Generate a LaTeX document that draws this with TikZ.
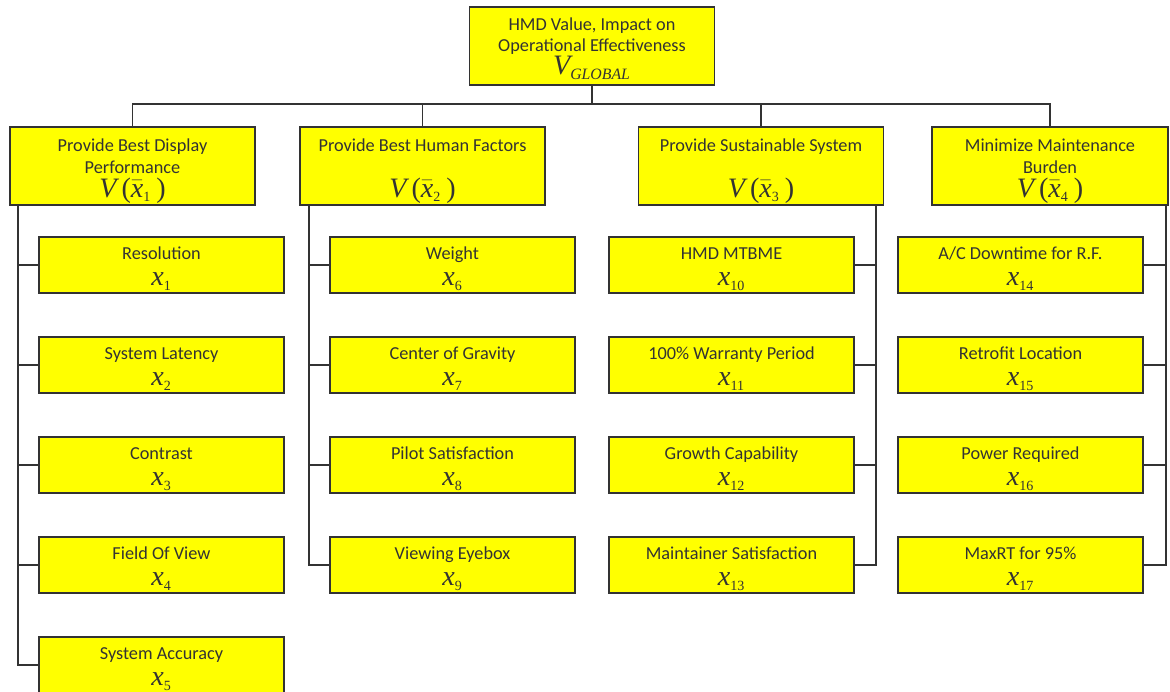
\documentclass[tikz,border=0pt]{standalone}
\usepackage{amsmath}
\usepackage{fontspec}
\setmainfont{Carlito}
\newfontfamily\termsfont{Liberation Serif}
\usepackage{tikz}
\usetikzlibrary{calc}
\definecolor{boxYellow}{HTML}{FFFF00}
\definecolor{ink}{HTML}{333333}
\newcommand\tv[1]{\text{\termsfont\itshape #1}}
\newcommand\tn[1]{\text{\termsfont #1}}
\newcommand\tsub[1]{\text{\fontsize{8}{8}\selectfont\termsfont #1}}
\newcommand\bigmath[1]{{\fontsize{16}{16}\selectfont$#1$}}
\newcommand\critval[1]{\bigmath{\tv{V}\,\tn{(}\bar{\tv{x}}_{\tsub{#1}}\,\tn{)}}}
\newcommand\measure[1]{\bigmath{\tv{x}_{\tsub{#1}}}}
\newcommand\topstrut[1]{\rule{0pt}{#1}}

\begin{document}
\begin{tikzpicture}[x=0.02cm,y=-0.02cm,
  font=\fontsize{10.4}{12.5}\selectfont, text=ink,
  box/.style={draw=ink,line width=0.9pt,fill=boxYellow,align=center,inner sep=0pt,minimum width=4.9cm},
  rootbox/.style={box,minimum height=1.56cm},
  critbox/.style={box,minimum height=1.56cm},
  leafbox/.style={box,minimum height=1.12cm},
  link/.style={draw=ink,line width=1pt}]
\useasboundingbox (0,0) rectangle (1170,692);
% top value
\node[rootbox] (root) at (592,46) {\topstrut{10pt}HMD Value, Impact on\\Operational Effectiveness\\[0.5pt]\bigmath{\tv{V}_{\text{\fontsize{9}{9}\selectfont\termsfont\itshape GLOBAL}}}};
% criteria
\node[critbox] (c1) at (132.5,166) {\topstrut{13pt}Provide Best Display\\Performance\\[1.2pt]\critval{1}};
\node[critbox] (c2) at (422.5,166) {\topstrut{13pt}Provide Best Human Factors\\ \\[1.2pt]\critval{2}};
\node[critbox] (c3) at (761,166) {\topstrut{13pt}Provide Sustainable System\\ \\[1.2pt]\critval{3}};
\node[critbox,minimum width=4.72cm] (c4) at (1050,166) {\topstrut{13pt}Minimize Maintenance\\Burden\\[1.2pt]\critval{4}};
% measures
\node[leafbox] (m1) at (161.5,265) {\topstrut{11.5pt}Resolution\\[2.3pt]\measure{1}};
\node[leafbox] (m2) at (161.5,365) {\topstrut{11.5pt}System Latency\\[2.3pt]\measure{2}};
\node[leafbox] (m3) at (161.5,465) {\topstrut{11.5pt}Contrast\\[2.3pt]\measure{3}};
\node[leafbox] (m4) at (161.5,565) {\topstrut{11.5pt}Field Of View\\[2.3pt]\measure{4}};
\node[leafbox] (m5) at (161.5,665) {\topstrut{11.5pt}System Accuracy\\[2.3pt]\measure{5}};
\node[leafbox] (m6) at (452.5,265) {\topstrut{11.5pt}Weight\\[2.3pt]\measure{6}};
\node[leafbox] (m7) at (452.5,365) {\topstrut{11.5pt}Center of Gravity\\[2.3pt]\measure{7}};
\node[leafbox] (m8) at (452.5,465) {\topstrut{11.5pt}Pilot Satisfaction\\[2.3pt]\measure{8}};
\node[leafbox] (m9) at (452.5,565) {\topstrut{11.5pt}Viewing Eyebox\\[2.3pt]\measure{9}};
\node[leafbox] (m10) at (731.5,265) {\topstrut{11.5pt}HMD MTBME\\[2.3pt]\measure{10}};
\node[leafbox] (m11) at (731.5,365) {\topstrut{11.5pt}100\% Warranty Period\\[2.3pt]\measure{11}};
\node[leafbox] (m12) at (731.5,465) {\topstrut{11.5pt}Growth Capability\\[2.3pt]\measure{12}};
\node[leafbox] (m13) at (731.5,565) {\topstrut{11.5pt}Maintainer Satisfaction\\[2.3pt]\measure{13}};
\node[leafbox] (m14) at (1020.5,265) {\topstrut{11.5pt}A/C Downtime for R.F.\\[2.3pt]\measure{14}};
\node[leafbox] (m15) at (1020.5,365) {\topstrut{11.5pt}Retrofit Location\\[2.3pt]\measure{15}};
\node[leafbox] (m16) at (1020.5,465) {\topstrut{11.5pt}Power Required\\[2.3pt]\measure{16}};
\node[leafbox] (m17) at (1020.5,565) {\topstrut{11.5pt}MaxRT for 95\%\\[2.3pt]\measure{17}};
% tree lines
\draw[link] (root.south) -- ++(0,18) -| (c1.north);
\draw[link] (root.south) -- ++(0,18) -| (c2.north);
\draw[link] (root.south) -- ++(0,18) -| (c3.north);
\draw[link] (root.south) -- ++(0,18) -| (c4.north);
\draw[link] ($(c1.south west)+(9,0)$) |- (m1.west);
\draw[link] ($(c1.south west)+(9,0)$) |- (m2.west);
\draw[link] ($(c1.south west)+(9,0)$) |- (m3.west);
\draw[link] ($(c1.south west)+(9,0)$) |- (m4.west);
\draw[link] ($(c1.south west)+(9,0)$) |- (m5.west);
\draw[link] ($(c2.south west)+(10,0)$) |- (m6.west);
\draw[link] ($(c2.south west)+(10,0)$) |- (m7.west);
\draw[link] ($(c2.south west)+(10,0)$) |- (m8.west);
\draw[link] ($(c2.south west)+(10,0)$) |- (m9.west);
\draw[link] ($(c3.south east)+(-8,0)$) |- (m10.east);
\draw[link] ($(c3.south east)+(-8,0)$) |- (m11.east);
\draw[link] ($(c3.south east)+(-8,0)$) |- (m12.east);
\draw[link] ($(c3.south east)+(-8,0)$) |- (m13.east);
\draw[link] ($(c4.south east)+(-3,0)$) |- (m14.east);
\draw[link] ($(c4.south east)+(-3,0)$) |- (m15.east);
\draw[link] ($(c4.south east)+(-3,0)$) |- (m16.east);
\draw[link] ($(c4.south east)+(-3,0)$) |- (m17.east);
\end{tikzpicture}
\end{document}
